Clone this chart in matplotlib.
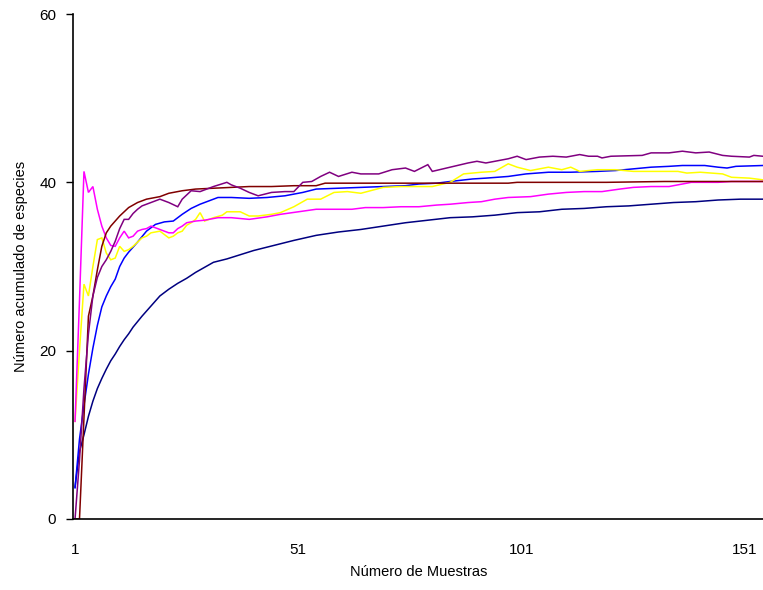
import matplotlib
matplotlib.use("Agg")
import matplotlib.pyplot as plt

plt.rcParams['font.family'] = ['Liberation Sans', 'DejaVu Sans']

# ---- data ----
navy_x = [1,2,3,4,5,6,7,8,9,10,11,12,13,14,16,18,20,22,24,26,28,30,32,35,38,41,44,47,50,55,60,65,70,75,80,85,90,95,100,105,110,115,120,125,130,135,140,145,150,155]
navy_y = [3.8,8.0,10.0,12.2,14.0,15.5,16.7,17.8,18.8,19.6,20.5,21.3,22.0,22.8,24.1,25.3,26.5,27.3,28.0,28.6,29.3,29.9,30.5,30.9,31.4,31.9,32.3,32.7,33.1,33.7,34.1,34.4,34.8,35.2,35.5,35.8,35.9,36.1,36.4,36.5,36.8,36.9,37.1,37.2,37.4,37.6,37.7,37.9,38.0,38.0]

blue_x = [1,2,3,4,5,6,7,8,9,10,11,12,13,15,17,19,21,23,25,27,29,31,33,36,40,44,48,52,55,60,65,70,75,78,82,85,90,93,98,102,107,112,118,122,126,130,134,137,142,145,147,149,155]
blue_y = [3.7,9.5,13.5,17.2,20.3,23.0,25.2,26.5,27.6,28.5,30.0,31.0,31.7,32.9,34.2,35.0,35.3,35.4,36.2,36.9,37.4,37.8,38.2,38.2,38.1,38.2,38.4,38.8,39.2,39.3,39.4,39.5,39.6,39.8,39.9,40.1,40.4,40.5,40.7,41.0,41.2,41.2,41.3,41.4,41.6,41.8,41.9,42.0,42.0,41.8,41.7,41.9,42.0]

yellow_x = [1,2,3,4,5,6,7,8,9,10,11,12,13,14,15,16,17,18,19,20,21,22,23,24,25,26,27,28,29,30,31,32,34,35,38,40,42,45,47,50,53,56,59,62,65,70,74,78,81,85,88,92,95,98,100,103,107,110,112,114,118,122,126,130,136,138,141,146,148,152,155]
yellow_y = [11.6,20.0,27.9,26.5,30.0,33.2,33.4,31.6,30.8,31.0,32.4,31.8,32.0,32.4,32.9,33.4,33.6,34.0,34.1,34.2,33.8,33.4,33.6,34.0,34.2,34.9,35.2,35.6,36.4,35.4,35.6,35.8,36.1,36.5,36.5,36.0,36.0,36.2,36.4,37.1,38.0,38.0,38.8,38.9,38.7,39.4,39.5,39.5,39.5,40.0,41.0,41.2,41.3,42.2,41.8,41.4,41.8,41.5,41.8,41.3,41.5,41.5,41.3,41.3,41.3,41.1,41.2,41.0,40.6,40.5,40.3]

magenta_x = [1,2,3,4,5,6,7,8,9,10,11,12,13,14,15,16,17,18,19,20,21,22,23,24,25,26,28,30,33,36,40,44,47,51,55,60,63,66,70,74,78,82,85,89,92,95,98,103,107,111,115,119,123,126,130,134,137,139,145,148,155]
magenta_y = [11.6,26.0,41.3,38.8,39.5,36.8,34.8,33.4,32.5,32.4,33.4,34.2,33.4,33.6,34.2,34.4,34.5,34.8,34.6,34.4,34.2,34.0,34.0,34.5,34.8,35.2,35.4,35.5,35.8,35.8,35.6,35.9,36.2,36.5,36.8,36.8,36.8,37.0,37.0,37.1,37.1,37.3,37.4,37.6,37.7,38.0,38.2,38.3,38.6,38.8,38.9,38.9,39.2,39.4,39.5,39.5,39.8,40.0,40.0,40.1,40.1]

maroon_x = [1,2,3,4,5,6,7,8,9,10,11,12,13,15,17,20,22,25,28,32,36,40,45,50,55,57,70,80,90,98,100,120,133,155]
maroon_y = [0.0,0.0,12.0,24.1,26.5,29.6,32.4,34.0,34.8,35.4,36.0,36.5,37.0,37.6,38.0,38.3,38.7,39.0,39.2,39.3,39.4,39.5,39.5,39.6,39.6,39.9,39.9,39.9,39.9,39.9,40.0,40.0,40.1,40.1]

purple_x = [1,2,3,4,5,6,7,8,9,10,11,12,13,14,15,16,17,18,20,22,24,25,27,29,32,35,36,38,40,42,45,48,50,52,54,56,58,60,63,65,69,72,75,77,80,81,85,89,91,93,96,98,100,102,105,108,111,114,116,118,119,121,128,130,134,137,140,143,146,148,152,153,155]
purple_y = [0.0,7.0,15.5,22.0,26.5,28.7,30.0,30.8,31.8,33.0,34.5,35.6,35.6,36.3,36.8,37.2,37.4,37.6,38.0,37.6,37.1,38.0,39.0,38.9,39.5,40.0,39.7,39.3,38.8,38.4,38.8,38.9,38.9,40.0,40.1,40.7,41.2,40.7,41.2,41.0,41.0,41.5,41.7,41.3,42.1,41.3,41.8,42.3,42.5,42.3,42.6,42.8,43.1,42.7,43.0,43.1,43.0,43.3,43.1,43.1,42.9,43.1,43.2,43.5,43.5,43.7,43.5,43.6,43.2,43.1,43.0,43.2,43.1]

xticks = [1, 51, 101, 151]
yticks = [0, 20, 40, 60]

series = [
    (navy_x, navy_y, '#000080'),
    (blue_x, blue_y, '#0000FF'),
    (yellow_x, yellow_y, '#FFFF00'),
    (magenta_x, magenta_y, '#FF00FF'),
    (maroon_x, maroon_y, '#800000'),
    (purple_x, purple_y, '#800080'),
]

fig = plt.figure(figsize=(7.63, 5.90), dpi=100)
W, H = 763, 590
left_px, right_px, top_px, bot_px = 72.8, 765.0, 14.0, 519.0
ax = fig.add_axes([left_px / W, 1 - bot_px / H, (right_px - left_px) / W, (bot_px - top_px) / H])

for xs, ys, c in series:
    ax.plot(xs, ys, color=c, lw=1.1, solid_joinstyle='miter')

ax.set_xlim(0.5, 155.5)
ax.set_ylim(0, 60)
ax.set_xticks(xticks)
ax.set_xticklabels([str(t) for t in xticks])
ax.set_yticks(yticks)
ax.set_yticklabels([str(t) for t in yticks])
ax.tick_params(axis='x', length=0, pad=17, labelsize=11)
ax.tick_params(axis='y', length=5, width=1, direction='out', pad=7, labelsize=11)
for s in ['top', 'right']:
    ax.spines[s].set_visible(False)
for s in ['left', 'bottom']:
    ax.spines[s].set_linewidth(1.2)
ax.spines['left'].set_bounds(0, 60)

ax.set_xlabel('Número de Muestras', fontsize=10.5, labelpad=6)
ax.set_ylabel('Número acumulado de especies', fontsize=10.5, labelpad=8)

fig.savefig('out.png', dpi=100)
